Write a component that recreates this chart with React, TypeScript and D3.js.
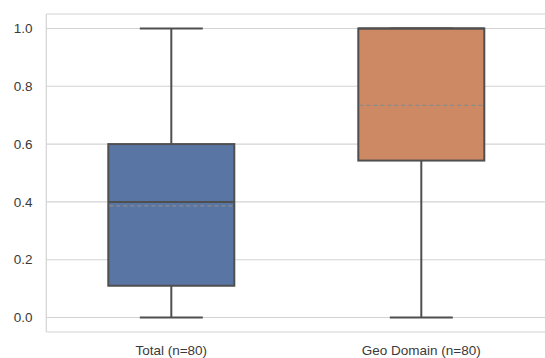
import React from "react";
import * as d3 from "d3";

const categories = ["Total (n=80)", "Geo Domain (n=80)"];
const whiskerLow = [0.0, 0.0];
const q1 = [0.11, 0.543];
const median = [0.4, 1.0];
const q3 = [0.6, 1.0];
const whiskerHigh = [1.0, 1.0];
const means = [0.386, 0.734];
const colors = ["#5975a4", "#cc8963"];
const yTicks = [0.0, 0.2, 0.4, 0.6, 0.8, 1.0];

const W = 545;
const H = 358;

export default function App() {
  const x = d3.scaleBand<string>().domain(categories).range([46.3, 546.3]).padding(0);
  const y = d3.scaleLinear().domain([-0.05, 1.05]).range([332, 14]);
  const bw = x.bandwidth() * 0.504;
  const capW = bw / 2;
  const lineColor = "#4f4f4f";
  const font = "Arial, 'Liberation Sans', sans-serif";

  return (
    <svg width={W} height={H} style={{ position: "absolute", left: 0, top: 0, background: "#fff" }}>
      <rect x={0} y={0} width={W} height={H} fill="#fff" />
      {/* grid */}
      {yTicks.map((t) => (
        <line key={"g" + t} x1={46.3} x2={W} y1={y(t)} y2={y(t)} stroke="#d3d3d3" strokeWidth={1.1} />
      ))}
      {/* spines */}
      <line x1={46.3} x2={W} y1={y(1.05)} y2={y(1.05)} stroke="#d3d3d3" strokeWidth={1.2} />
      <line x1={46.3} x2={W} y1={y(-0.05)} y2={y(-0.05)} stroke="#d3d3d3" strokeWidth={1.2} />
      <line x1={46.3} x2={46.3} y1={y(1.05)} y2={y(-0.05)} stroke="#d3d3d3" strokeWidth={1.2} />
      {/* y tick labels */}
      {yTicks.map((t) => (
        <text
          key={"t" + t}
          x={32.5}
          y={y(t)}
          dy="0.35em"
          textAnchor="end"
          fontFamily={font}
          fontSize={13.5}
          fill="#3a3a3a"
        >
          {d3.format(".1f")(t)}
        </text>
      ))}
      {/* boxes */}
      {categories.map((c, i) => {
        const cx = (x(c) as number) + x.bandwidth() / 2;
        return (
          <g key={c}>
            <line x1={cx} x2={cx} y1={y(q1[i])} y2={y(whiskerLow[i])} stroke={lineColor} strokeWidth={2} />
            <line x1={cx} x2={cx} y1={y(q3[i])} y2={y(whiskerHigh[i])} stroke={lineColor} strokeWidth={2} />
            <line x1={cx - capW / 2} x2={cx + capW / 2} y1={y(whiskerLow[i])} y2={y(whiskerLow[i])} stroke={lineColor} strokeWidth={2} />
            <line x1={cx - capW / 2} x2={cx + capW / 2} y1={y(whiskerHigh[i])} y2={y(whiskerHigh[i])} stroke={lineColor} strokeWidth={2} />
            <rect
              x={cx - bw / 2}
              y={y(q3[i])}
              width={bw}
              height={y(q1[i]) - y(q3[i])}
              fill={colors[i]}
              stroke={lineColor}
              strokeWidth={2}
            />
            <line x1={cx - bw / 2} x2={cx + bw / 2} y1={y(median[i])} y2={y(median[i])} stroke={lineColor} strokeWidth={2} />
            <line
              x1={cx - bw / 2 + 1}
              x2={cx + bw / 2 - 1}
              y1={y(means[i])}
              y2={y(means[i])}
              stroke="#8a8a8a"
              strokeWidth={1.2}
              strokeDasharray="4,3"
            />
            <text
              x={cx}
              y={355}
              textAnchor="middle"
              fontFamily={font}
              fontSize={13.5}
              fill="#3a3a3a"
            >
              {c}
            </text>
          </g>
        );
      })}
    </svg>
  );
}
